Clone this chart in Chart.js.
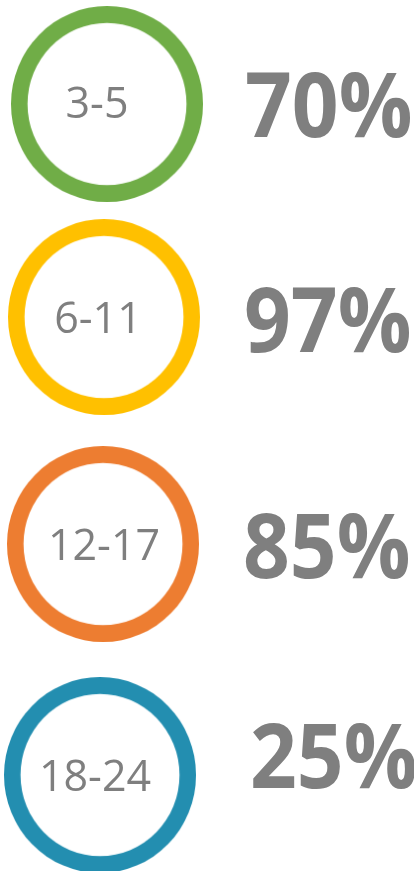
<!DOCTYPE html>
<html>
<head>
<meta charset="utf-8">
<script src="https://cdn.jsdelivr.net/npm/chart.js@4.4.1/dist/chart.umd.min.js"></script>
<style>
  html, body { margin: 0; padding: 0; background: #fff; }
  body { width: 414px; height: 871px; position: relative; overflow: hidden; font-family: "Open Sans", sans-serif; }
  .ring { position: absolute; }
  .label { position: absolute; width: 200px; text-align: center; font-size: 43px; line-height: 1; color: #7f7f7f; }
  .pct { position: absolute; font-size: 90px; font-weight: 700; line-height: 1; color: #7f7f7f; white-space: nowrap; transform-origin: left top; transform: scaleX(0.91); }
</style>
</head>
<body>
<script>
const ageGroups = ['3-5', '6-11', '12-17', '18-24'];
const percentages = [70, 97, 85, 25];
const ringShare = [100, 100, 100, 100];

const ringColors = ['#70ad47', '#ffc000', '#ed7d31', '#238eb0'];

// layout of each row: ring centre, label centre, percent text position
const rows = [
  { cx: 106.5, cy: 104, lx: 97, ly: 80, px: 245, py: 57 },
  { cx: 103.5, cy: 317, lx: 98, ly: 295, px: 244, py: 272 },
  { cx: 103, cy: 544, lx: 104, ly: 522, px: 243, py: 498 },
  { cx: 100, cy: 774.5, lx: 95, ly: 753, px: 250, py: 708 }
];

ageGroups.forEach((group, i) => {
  const r = rows[i];

  const canvas = document.createElement('canvas');
  canvas.className = 'ring';
  canvas.width = 194;
  canvas.height = 194;
  canvas.style.width = '192px';
  canvas.style.height = '196px';
  canvas.style.left = (r.cx - 96) + 'px';
  canvas.style.top = (r.cy - 98) + 'px';
  document.body.appendChild(canvas);

  new Chart(canvas.getContext('2d'), {
    type: 'doughnut',
    data: {
      labels: [group],
      datasets: [{
        data: [ringShare[i]],
        backgroundColor: ringColors[i],
        borderWidth: 0
      }]
    },
    options: {
      responsive: false,
      animation: false,
      cutout: '82.8%',
      layout: { padding: 0 },
      plugins: { legend: { display: false }, tooltip: { enabled: false } }
    }
  });

  const label = document.createElement('div');
  label.className = 'label';
  label.textContent = group;
  label.style.left = (r.lx - 100) + 'px';
  label.style.top = r.ly + 'px';
  document.body.appendChild(label);

  const pct = document.createElement('div');
  pct.className = 'pct';
  pct.textContent = percentages[i] + '%';
  pct.style.left = r.px + 'px';
  pct.style.top = r.py + 'px';
  document.body.appendChild(pct);
});
</script>
</body>
</html>
